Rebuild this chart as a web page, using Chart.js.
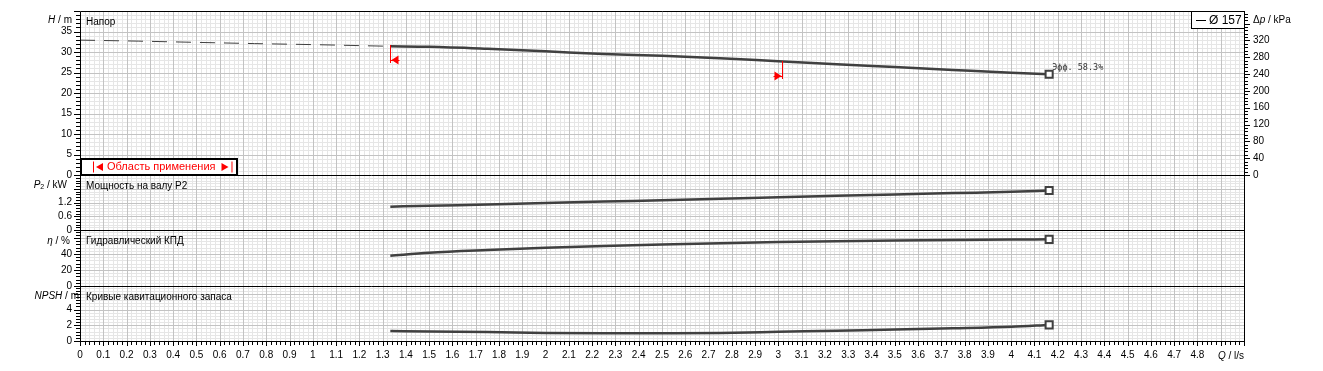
<!DOCTYPE html>
<html><head><meta charset="utf-8">
<script src="https://cdn.jsdelivr.net/npm/chart.js@4.4.1/dist/chart.umd.min.js"></script>
<style>html,body{margin:0;padding:0;background:#fff;}canvas{display:block;}</style>
</head><body>
<canvas id="c" width="1323" height="371"></canvas>
<script>
// ---------------- data ----------------
const flowTicks = [0,0.1,0.2,0.3,0.4,0.5,0.6,0.7,0.8,0.9,1,1.1,1.2,1.3,1.4,1.5,1.6,1.7,1.8,1.9,2,2.1,2.2,2.3,2.4,2.5,2.6,2.7,2.8,2.9,3,3.1,3.2,3.3,3.4,3.5,3.6,3.7,3.8,3.9,4,4.1,4.2,4.3,4.4,4.5,4.6,4.7,4.8];
const headTicks = [0,5,10,15,20,25,30,35];
const pressureTicks = [0,40,80,120,160,200,240,280,320];
const powerTicks = [0,0.6,1.2];
const effTicks = [0,20,40];
const npshTicks = [0,2,4];

const flowShutoff = [0, 0.25, 0.5, 0.75, 1.0, 1.333];
const headShutoff = [32.9, 32.65, 32.35, 32.05, 31.8, 31.39];

const flowDuty  = [1.333, 1.5, 1.75, 2.0, 2.25, 2.5, 2.75, 3.0, 3.25, 3.5, 3.75, 4.0, 4.163];
const headDuty  = [31.39, 31.27, 30.78, 30.17, 29.51, 29.07, 28.49, 27.73, 27.0, 26.32, 25.63, 24.95, 24.59];
const powerDuty = [1.017, 1.06, 1.11, 1.175, 1.24, 1.30, 1.365, 1.43, 1.49, 1.55, 1.61, 1.665, 1.72];
const effDuty   = [37.9, 41.6, 45.0, 47.8, 50.0, 51.9, 53.5, 54.9, 56.0, 56.9, 57.6, 58.1, 58.3];
const npshDuty  = [1.27, 1.2, 1.15, 1.03, 1.0, 1.0, 1.03, 1.17, 1.32, 1.45, 1.62, 1.82, 2.05];

const rangeFlows = [1.333, 3.017];
const rangeHeads = [31.39, 27.68];
const rangeDirs  = ['left', 'right'];

const impellerLabel = 'Ø 157';
const panelTitles = ['Напор', 'Мощность на валу P2', 'Гидравлический КПД', 'Кривые кавитационного запаса'];
const rangeLabel = 'Область применения';

// ---------------- config ----------------
const FONT = '"Liberation Sans", Arial, sans-serif';
const CURVE = '#404040';
const MINOR = '#e6e6e6';
const MAJOR = '#c3c3c3';
const W_H = 164, W_P = 55, W_E = 56, W_N = 55;
const H_MAX = 40, K_MAX = 390;

Chart.defaults.font.family = FONT;
Chart.defaults.font.size = 10;
Chart.defaults.color = '#000';

const pts = (xs, ys) => xs.map((x, i) => ({x, y: ys[i]}));
const endPoint = (ctx) => ctx.dataIndex === ctx.dataset.data.length - 1 ? 5 : 0;

function curve(data, axis) {
  return {
    data, yAxisID: axis, borderColor: CURVE, borderWidth: 2.5,
    cubicInterpolationMode: 'monotone', tension: 0.4,
    pointRadius: endPoint, pointStyle: 'rect', pointBackgroundColor: '#fff',
    pointBorderColor: CURVE, pointBorderWidth: 2, fill: false
  };
}

const setTicks = (arr) => (s) => { s.ticks = arr.map(v => ({value: v})); };
const noPad = (s) => { s.paddingTop = 0; s.paddingBottom = 0; s.paddingLeft = 0; s.paddingRight = 0; };
function yAxis(min, max, weight, ticks) {
  return {
    type: 'linear', position: 'left', stack: 'panels', stackWeight: weight,
    min, max, afterBuildTicks: setTicks(ticks),
    afterFit: (s) => { s.width = 80; noPad(s); },
    ticks: {autoSkip: false, padding: 8, font: {size: 10}, color: '#000', callback: v => String(v)},
    grid: {display: false, drawTicks: false}, border: {display: false}
  };
}

const specs = {
  x:  {minor: 0.02, major: 0.1},
  yH: {minor: 1, major: 5},
  yP: {minor: 0.12, major: 0.6},
  yE: {minor: 4, major: 20},
  yN: {minor: 0.4, major: 2},
  yK: {minor: 8, major: 40, from: 0}
};
const panels = ['yH', 'yP', 'yE', 'yN'];

function steps(scale, spec) {
  const lo = spec.from !== undefined ? spec.from : scale.min;
  const n = Math.floor((scale.max - lo) / spec.minor + 1e-6);
  const out = [];
  for (let i = 0; i <= n; i++) {
    const v = lo + i * spec.minor;
    const r = v / spec.major;
    out.push({v, major: Math.abs(r - Math.round(r)) < 1e-6});
  }
  return out;
}
const crisp = p => Math.round(p) + 0.5;

function mixed(ctx, parts, x, y, align) {
  let w = 0;
  for (const p of parts) {
    ctx.font = (p.it ? 'italic ' : '') + (p.size || 10) + 'px ' + FONT;
    p.w = ctx.measureText(p.t).width; w += p.w;
  }
  let cx = align === 'right' ? x - w : x;
  ctx.textAlign = 'left';
  ctx.textBaseline = 'middle';
  for (const p of parts) {
    ctx.font = (p.it ? 'italic ' : '') + (p.size || 10) + 'px ' + FONT;
    ctx.fillText(p.t, cx, y + (p.dy || 0));
    cx += p.w;
  }
}

const gridPlugin = {
  id: 'grid',
  beforeDatasetsDraw(chart) {
    const {ctx, chartArea: a, scales: s} = chart;
    ctx.save();
    ctx.lineWidth = 1;
    for (const pass of [false, true]) {
      ctx.strokeStyle = pass ? MAJOR : MINOR;
      ctx.beginPath();
      for (const t of steps(s.x, specs.x)) {
        if (t.major !== pass) continue;
        const px = crisp(s.x.getPixelForValue(t.v));
        ctx.moveTo(px, a.top); ctx.lineTo(px, a.bottom);
      }
      for (const id of panels) {
        for (const t of steps(s[id], specs[id])) {
          if (t.major !== pass) continue;
          const py = crisp(s[id].getPixelForValue(t.v));
          ctx.moveTo(a.left, py); ctx.lineTo(a.right, py);
        }
      }
      ctx.stroke();
    }
    ctx.restore();
  }
};

const decorPlugin = {
  id: 'decor',
  afterDatasetsDraw(chart) {
    const {ctx, chartArea: a, scales: s} = chart;
    ctx.save();
    // red range markers
    ctx.strokeStyle = '#ff0000'; ctx.fillStyle = '#ff0000'; ctx.lineWidth = 1;
    rangeFlows.forEach((q, i) => {
      const px = crisp(s.x.getPixelForValue(q));
      const py = s.yH.getPixelForValue(rangeHeads[i]);
      ctx.beginPath(); ctx.moveTo(px, Math.round(py) - 1); ctx.lineTo(px, Math.round(py) + 17); ctx.stroke();
      const cy = Math.round(py) + 14;
      const d = rangeDirs[i] === 'left' ? 1 : -1;
      ctx.beginPath();
      ctx.moveTo(px + d * 1, cy); ctx.lineTo(px + d * 8, cy - 4.5); ctx.lineTo(px + d * 8, cy + 4.5); ctx.closePath(); ctx.fill();
      ctx.beginPath(); ctx.moveTo(px, cy + 0.5); ctx.lineTo(px + d * 9, cy + 0.5); ctx.stroke();
    });

    // frame and separators
    ctx.strokeStyle = '#000'; ctx.lineWidth = 1;
    ctx.beginPath();
    const L = crisp(a.left), R = crisp(a.right), T = crisp(a.top), B = crisp(a.bottom);
    ctx.moveTo(L, T); ctx.lineTo(R, T); ctx.lineTo(R, B); ctx.lineTo(L, B); ctx.closePath();
    for (const id of ['yH', 'yP', 'yE']) {
      const py = crisp(s[id].bottom);
      ctx.moveTo(L, py); ctx.lineTo(R, py);
    }
    // tick marks
    for (const id of panels) {
      for (const t of steps(s[id], specs[id])) {
        const py = crisp(s[id].getPixelForValue(t.v));
        ctx.moveTo(a.left - (t.major ? 6 : 4), py); ctx.lineTo(a.left, py);
      }
    }
    for (const t of steps(s.yK, specs.yK)) {
      const py = crisp(s.yK.getPixelForValue(t.v));
      if (py < a.top) continue;
      ctx.moveTo(a.right, py); ctx.lineTo(a.right + (t.major ? 6 : 4), py);
    }
    for (const t of steps(s.x, specs.x)) {
      const px = crisp(s.x.getPixelForValue(t.v));
      ctx.moveTo(px, a.bottom); ctx.lineTo(px, a.bottom + (t.major ? 5 : 4));
    }
    ctx.stroke();

    // axis titles
    ctx.fillStyle = '#000';
    mixed(ctx, [{t: 'H', it: true}, {t: ' / m'}], 72, s.yH.top + 9, 'right');
    mixed(ctx, [{t: 'P', it: true}, {t: '2', size: 7, dy: 2}, {t: ' / kW'}], 67, s.yP.top + 10, 'right');
    mixed(ctx, [{t: 'η', it: true}, {t: ' / %'}], 70, s.yE.top + 11, 'right');
    mixed(ctx, [{t: 'NPSH', it: true}, {t: ' / m'}], 79, s.yN.top + 10, 'right');
    mixed(ctx, [{t: 'Δ'}, {t: 'p', it: true}, {t: ' / kPa'}], a.right + 9, s.yH.top + 9, 'left');
    mixed(ctx, [{t: 'Q', it: true}, {t: ' / l/s'}], a.right, a.bottom + 15, 'right');

    // panel titles
    panelTitles.forEach((t, i) => {
      const sc = s[panels[i]];
      mixed(ctx, [{t}], a.left + 6, sc.top + 11, 'left');
    });

    // efficiency label at duty end
    const last = flowDuty.length - 1;
    const ex = s.x.getPixelForValue(flowDuty[last]);
    const ey = s.yH.getPixelForValue(headDuty[last]);
    ctx.font = '8.5px "DejaVu Sans Mono", monospace';
    ctx.fillStyle = '#333'; ctx.textAlign = 'left'; ctx.textBaseline = 'middle';
    ctx.fillText('Эфф. ' + effDuty[last] + '%', ex + 3, ey - 6);

    // legend box
    const lx0 = a.right - 53, ly0 = a.top, lh = 17;
    ctx.fillStyle = '#fff'; ctx.fillRect(lx0, ly0, 53, lh);
    ctx.strokeStyle = '#000'; ctx.lineWidth = 1;
    ctx.strokeRect(lx0 + 0.5, ly0 + 0.5, 53, lh);
    ctx.beginPath(); ctx.moveTo(lx0 + 5, ly0 + 9.5); ctx.lineTo(lx0 + 15, ly0 + 9.5); ctx.stroke();
    ctx.fillStyle = '#000'; ctx.font = '12px ' + FONT; ctx.textBaseline = 'middle';
    ctx.fillText(impellerLabel, lx0 + 18, ly0 + 9.5);

    // application range box
    const bx0 = a.left, by1 = s.yH.bottom, by0 = by1 - 17, bw = 157;
    ctx.fillStyle = '#fff'; ctx.fillRect(bx0, by0, bw, 17);
    ctx.lineWidth = 2; ctx.strokeStyle = '#000';
    ctx.strokeRect(bx0 + 1, by0 + 1, bw - 1, 16);
    ctx.fillStyle = '#ff0000'; ctx.strokeStyle = '#ff0000'; ctx.lineWidth = 1;
    const cy = by0 + 9;
    let x0 = bx0 + 13;
    ctx.beginPath(); ctx.moveTo(x0 + 0.5, cy - 5.5); ctx.lineTo(x0 + 0.5, cy + 5.5); ctx.stroke();
    ctx.beginPath(); ctx.moveTo(x0 + 3, cy); ctx.lineTo(x0 + 10, cy - 4); ctx.lineTo(x0 + 10, cy + 4); ctx.closePath(); ctx.fill();
    ctx.font = '11px ' + FONT; ctx.textAlign = 'left'; ctx.textBaseline = 'middle';
    ctx.fillText(rangeLabel, x0 + 14, cy);
    const tw = ctx.measureText(rangeLabel).width;
    const x1 = x0 + 14 + tw + 6;
    ctx.beginPath(); ctx.moveTo(x1, cy - 4); ctx.lineTo(x1 + 7, cy); ctx.lineTo(x1, cy + 4); ctx.closePath(); ctx.fill();
    ctx.beginPath(); ctx.moveTo(x1 + 10.5, cy - 5.5); ctx.lineTo(x1 + 10.5, cy + 5.5); ctx.stroke();

    ctx.restore();
  }
};

new Chart(document.getElementById('c'), {
  type: 'line',
  data: {
    datasets: [
      Object.assign(curve(pts(flowShutoff, headShutoff), 'yH'), {borderWidth: 1, borderDash: [15, 9], pointRadius: 0}),
      curve(pts(flowDuty, headDuty), 'yH'),
      curve(pts(flowDuty, powerDuty), 'yP'),
      curve(pts(flowDuty, effDuty), 'yE'),
      curve(pts(flowDuty, npshDuty), 'yN')
    ]
  },
  options: {
    responsive: false, animation: false, devicePixelRatio: 1, events: [],
    layout: {padding: {top: 11, left: 0, right: 0, bottom: 0}},
    plugins: {legend: {display: false}, tooltip: {enabled: false}},
    scales: {
      x: {
        type: 'linear', position: 'bottom', min: 0, max: 5,
        afterBuildTicks: setTicks(flowTicks),
        afterFit: (s) => { s.height = 30; noPad(s); },
        ticks: {autoSkip: false, maxRotation: 0, padding: 8, font: {size: 10}, color: '#000', callback: v => String(v)},
        grid: {display: false, drawTicks: false}, border: {display: false}
      },
      // stacked panels are laid out bottom-up, so the bottom panel comes first
      yN: yAxis(0, 7, W_N, npshTicks),
      yE: yAxis(0, 70, W_E, effTicks),
      yP: yAxis(0, 2.4, W_P, powerTicks),
      yH: yAxis(0, H_MAX, W_H, headTicks),
      yK: {
        type: 'linear', position: 'right',
        min: -K_MAX * (W_P + W_E + W_N) / W_H, max: K_MAX,
        afterBuildTicks: setTicks(pressureTicks),
        afterFit: (s) => { s.width = 79; noPad(s); },
        ticks: {autoSkip: false, padding: 9, font: {size: 10}, color: '#000', callback: v => String(v)},
        grid: {display: false, drawTicks: false}, border: {display: false}
      }
    }
  },
  plugins: [gridPlugin, decorPlugin]
});
</script>
</body></html>
